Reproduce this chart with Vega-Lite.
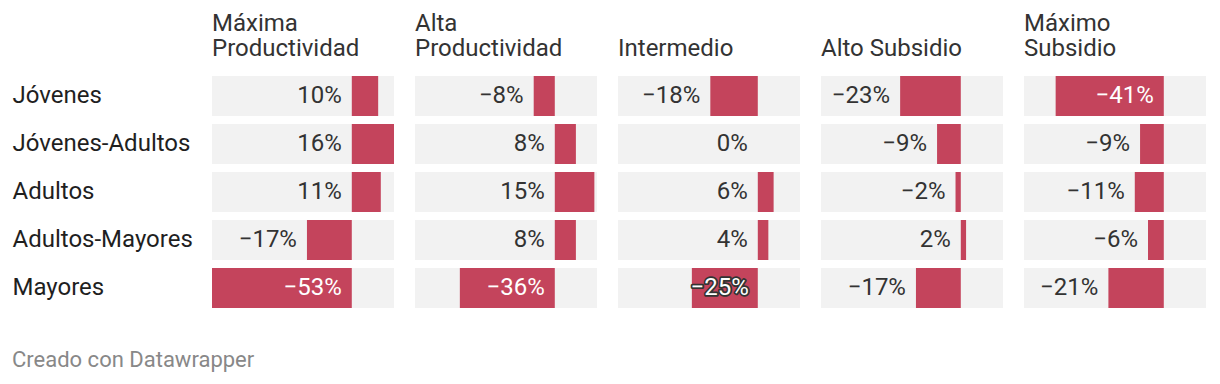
{
  "$schema": "https://vega.github.io/schema/vega-lite/v6.json",
  "background": "white",
  "padding": {"left": 12, "top": 12, "right": 5, "bottom": 5},
  "data": {"values": [
    {"col": "Máxima Productividad", "row": "Jóvenes", "v": 0.10},
    {"col": "Máxima Productividad", "row": "Jóvenes-Adultos", "v": 0.16},
    {"col": "Máxima Productividad", "row": "Adultos", "v": 0.11},
    {"col": "Máxima Productividad", "row": "Adultos-Mayores", "v": -0.17},
    {"col": "Máxima Productividad", "row": "Mayores", "v": -0.53},
    {"col": "Alta Productividad", "row": "Jóvenes", "v": -0.08},
    {"col": "Alta Productividad", "row": "Jóvenes-Adultos", "v": 0.08},
    {"col": "Alta Productividad", "row": "Adultos", "v": 0.15},
    {"col": "Alta Productividad", "row": "Adultos-Mayores", "v": 0.08},
    {"col": "Alta Productividad", "row": "Mayores", "v": -0.36},
    {"col": "Intermedio", "row": "Jóvenes", "v": -0.18},
    {"col": "Intermedio", "row": "Jóvenes-Adultos", "v": 0.0},
    {"col": "Intermedio", "row": "Adultos", "v": 0.06},
    {"col": "Intermedio", "row": "Adultos-Mayores", "v": 0.04},
    {"col": "Intermedio", "row": "Mayores", "v": -0.25},
    {"col": "Alto Subsidio", "row": "Jóvenes", "v": -0.23},
    {"col": "Alto Subsidio", "row": "Jóvenes-Adultos", "v": -0.09},
    {"col": "Alto Subsidio", "row": "Adultos", "v": -0.02},
    {"col": "Alto Subsidio", "row": "Adultos-Mayores", "v": 0.02},
    {"col": "Alto Subsidio", "row": "Mayores", "v": -0.17},
    {"col": "Máximo Subsidio", "row": "Jóvenes", "v": -0.41},
    {"col": "Máximo Subsidio", "row": "Jóvenes-Adultos", "v": -0.09},
    {"col": "Máximo Subsidio", "row": "Adultos", "v": -0.11},
    {"col": "Máximo Subsidio", "row": "Adultos-Mayores", "v": -0.06},
    {"col": "Máximo Subsidio", "row": "Mayores", "v": -0.21}
  ]},
  "title": {
    "text": "Creado con Datawrapper",
    "orient": "bottom",
    "anchor": "start",
    "frame": "bounds",
    "font": "Roboto",
    "fontSize": 22,
    "fontWeight": "normal",
    "color": "#888888",
    "offset": 38
  },
  "facet": {
    "column": {
      "field": "col",
      "type": "nominal",
      "sort": ["Máxima Productividad", "Alta Productividad", "Intermedio", "Alto Subsidio", "Máximo Subsidio"],
      "title": null,
      "header": {
        "labelOrient": "top",
        "labelAnchor": "start",
        "labelAlign": "left",
        "labelBaseline": "top",
        "labelFont": "Roboto",
        "labelFontSize": 24,
        "labelColor": "#333333",
        "labelLineHeight": 25,
        "labelPadding": 11,
        "labelExpr": "(datum.value === 'Intermedio' || datum.value === 'Alto Subsidio') ? datum.value : split(datum.value, ' ')"
      }
    }
  },
  "spacing": {"column": 21},
  "spec": {
    "width": 182,
    "height": 240,
    "encoding": {
      "y": {
        "field": "row",
        "type": "nominal",
        "sort": ["Jóvenes", "Jóvenes-Adultos", "Adultos", "Adultos-Mayores", "Mayores"],
        "scale": {"paddingInner": 0.1667, "paddingOuter": 0.0833},
        "axis": {
          "title": null,
          "domain": false,
          "ticks": false,
          "tickSize": 0,
          "grid": false,
          "labelAlign": "left",
          "labelPadding": 200,
          "labelLimit": 0,
          "labelFont": "Roboto",
          "labelFontSize": 24,
          "labelColor": "#1f1f1f"
        }
      }
    },
    "layer": [
      {
        "mark": {"type": "bar", "color": "#f2f2f2"},
        "encoding": {
          "x": {"datum": -0.53, "type": "quantitative", "scale": {"domain": [-0.53, 0.16], "nice": false, "zero": false}, "axis": null},
          "x2": {"datum": 0.16}
        }
      },
      {
        "mark": {"type": "bar", "color": "#c4445c"},
        "encoding": {
          "x": {"field": "v", "type": "quantitative", "axis": null},
          "x2": {"datum": 0}
        }
      },
      {
        "transform": [{"filter": "datum.v >= 0"}],
        "mark": {"type": "text", "align": "right", "baseline": "middle", "dx": -10, "font": "Roboto", "fontSize": 24, "color": "#333333"},
        "encoding": {
          "x": {"datum": 0, "type": "quantitative", "axis": null},
          "text": {"field": "v", "type": "quantitative", "format": ".0%"}
        }
      },
      {
        "transform": [{"filter": "datum.v < 0 && datum.v > -0.245"}],
        "mark": {"type": "text", "align": "right", "baseline": "middle", "dx": -10, "font": "Roboto", "fontSize": 24, "color": "#333333"},
        "encoding": {
          "x": {"field": "v", "type": "quantitative", "axis": null},
          "text": {"field": "v", "type": "quantitative", "format": ".0%"}
        }
      },
      {
        "transform": [{"filter": "datum.v <= -0.245 && datum.v > -0.3"}],
        "mark": {"type": "text", "align": "right", "baseline": "middle", "dx": -9, "font": "Roboto", "fontSize": 24, "fill": "#333333", "stroke": "#333333", "strokeWidth": 3.5, "strokeJoin": "round"},
        "encoding": {
          "x": {"datum": 0, "type": "quantitative", "axis": null},
          "text": {"field": "v", "type": "quantitative", "format": ".0%"}
        }
      },
      {
        "transform": [{"filter": "datum.v <= -0.245 && datum.v > -0.3"}],
        "mark": {"type": "text", "align": "right", "baseline": "middle", "dx": -9, "font": "Roboto", "fontSize": 24, "color": "#ffffff"},
        "encoding": {
          "x": {"datum": 0, "type": "quantitative", "axis": null},
          "text": {"field": "v", "type": "quantitative", "format": ".0%"}
        }
      },
      {
        "transform": [{"filter": "datum.v <= -0.3"}],
        "mark": {"type": "text", "align": "right", "baseline": "middle", "dx": -10, "font": "Roboto", "fontSize": 24, "color": "#ffffff"},
        "encoding": {
          "x": {"datum": 0, "type": "quantitative", "axis": null},
          "text": {"field": "v", "type": "quantitative", "format": ".0%"}
        }
      }
    ]
  },
  "config": {
    "view": {"stroke": null},
    "font": "Roboto"
  }
}
